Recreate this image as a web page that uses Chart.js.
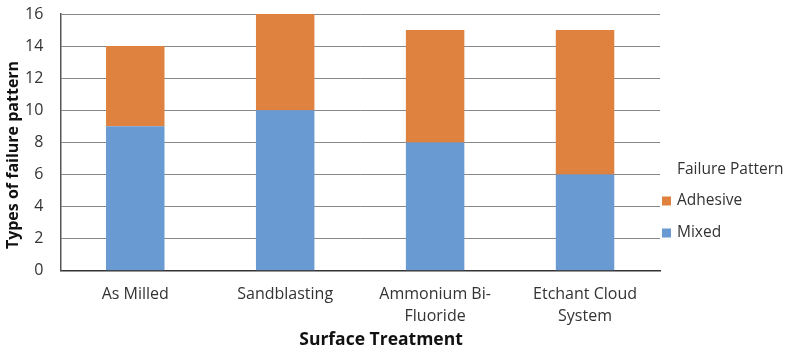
<!DOCTYPE html>
<html>
<head>
<meta charset="utf-8">
<script src="https://cdn.jsdelivr.net/npm/chart.js@4"></script>
<style>
  html, body { margin: 0; padding: 0; background: #fff; }
  #wrap { width: 794px; height: 360px; }
</style>
</head>
<body>
<div id="wrap"><canvas id="failChart" width="794" height="360"></canvas></div>
<script>
// data
const treatments = [['As Milled'], ['Sandblasting'], ['Ammonium Bi-', 'Fluoride'], ['Etchant Cloud', 'System']];
const mixed = [9, 10, 8, 6];
const adhesive = [5, 6, 7, 9];
const yTicks = [0, 2, 4, 6, 8, 10, 12, 14, 16];
const legendTitle = 'Failure Pattern';
const xTitle = 'Surface Treatment';
const yTitle = 'Types of failure pattern';

const fontFam = "'Open Sans', 'Liberation Sans', sans-serif";
const textCol = '#333';

// axis titles sit off-centre in the original, and the legend is on the right: drawn by hand
const sideLegend = {
  id: 'sideLegend',
  afterDraw(chart) {
    const c = chart.ctx;
    const area = chart.chartArea;
    const x0 = area.right + 2;
    c.save();
    c.font = '15.5px ' + fontFam;
    c.fillStyle = textCol;
    c.textBaseline = 'middle';
    c.fillText(legendTitle, x0 + 15, 170);
    const items = chart.data.datasets.slice().reverse();
    items.forEach((ds, i) => {
      const cy = 201 + i * 32;
      c.fillStyle = ds.backgroundColor;
      c.fillRect(x0, cy - 4.5, 9, 9);
      c.fillStyle = textCol;
      c.fillText(ds.label, x0 + 15, cy);
    });

    c.fillStyle = '#111';
    c.textAlign = 'center';
    c.font = 'bold 17.5px ' + fontFam;
    c.fillText(xTitle, 381, 340);
    c.translate(13, 155);
    c.rotate(-Math.PI / 2);
    c.font = 'bold 16px ' + fontFam;
    c.fillText(yTitle, 0, 0);
    c.restore();
  }
};

const ctx = document.getElementById('failChart').getContext('2d');
new Chart(ctx, {
  type: 'bar',
  data: {
    labels: treatments,
    datasets: [
      { label: 'Mixed', data: mixed, backgroundColor: '#6a9ad2', barPercentage: 0.39, categoryPercentage: 1 },
      { label: 'Adhesive', data: adhesive, backgroundColor: '#e0823f', barPercentage: 0.39, categoryPercentage: 1 }
    ]
  },
  options: {
    responsive: false,
    animation: false,
    layout: { padding: { top: 0, right: 134, bottom: 20, left: 8 } },
    plugins: {
      tooltip: { enabled: false },
      legend: { display: false }
    },
    scales: {
      x: {
        stacked: true,
        grid: { display: false, drawTicks: false },
        border: { color: '#333', width: 1.5 },
        ticks: { color: textCol, font: { family: fontFam, size: 16, lineHeight: 1.35 }, padding: 13, maxRotation: 0 }
      },
      y: {
        stacked: true,
        min: 0,
        max: 16,
        afterBuildTicks: axis => { axis.ticks = yTicks.map(v => ({ value: v })); },
        afterFit: axis => { axis.paddingTop = 14; },
        grid: { color: '#888', drawTicks: false },
        border: { color: '#555', width: 1.5 },
        ticks: { color: textCol, font: { family: fontFam, size: 16 }, padding: 17 }
      }
    }
  },
  plugins: [sideLegend]
});
</script>
</body>
</html>
